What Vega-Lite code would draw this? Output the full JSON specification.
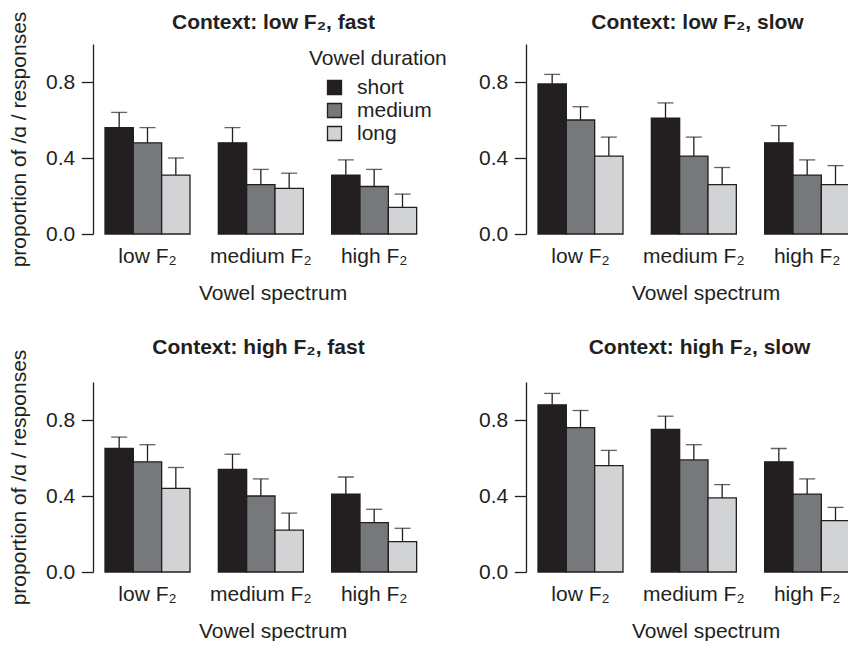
{
  "$schema": "https://vega.github.io/schema/vega-lite/v6.json",
  "background": "white",
  "padding": {"left": 8, "top": 11, "right": 0, "bottom": 0},
  "config": {
    "font": "Liberation Sans",
    "view": {"stroke": null},
    "axis": {"labelFontSize": 21, "titleFontSize": 21, "labelColor": "#231f20", "titleColor": "#231f20", "titleFontWeight": "normal", "grid": false, "domainColor": "#231f20", "tickColor": "#231f20", "domainWidth": 1.3, "tickWidth": 1.3},
    "title": {"fontSize": 21, "fontWeight": "bold", "color": "#231f20", "anchor": "middle", "frame": "group", "baseline": "alphabetic"},
    "legend": {"titleFontSize": 21, "titleFontWeight": "normal", "titleColor": "#231f20", "titlePadding": 8, "labelFontSize": 21, "labelColor": "#231f20", "symbolType": "square", "symbolSize": 196, "symbolStrokeColor": "#231f20", "symbolStrokeWidth": 1.3, "symbolOffset": 15, "labelOffset": 12, "rowPadding": 1}
  },
  "data": {"values": [
    {"panel": "TL", "spectrum": "low F₂", "duration": "short", "value": 0.56, "upper": 0.64},
    {"panel": "TL", "spectrum": "low F₂", "duration": "medium", "value": 0.48, "upper": 0.56},
    {"panel": "TL", "spectrum": "low F₂", "duration": "long", "value": 0.31, "upper": 0.40},
    {"panel": "TL", "spectrum": "medium F₂", "duration": "short", "value": 0.48, "upper": 0.56},
    {"panel": "TL", "spectrum": "medium F₂", "duration": "medium", "value": 0.26, "upper": 0.34},
    {"panel": "TL", "spectrum": "medium F₂", "duration": "long", "value": 0.24, "upper": 0.32},
    {"panel": "TL", "spectrum": "high F₂", "duration": "short", "value": 0.31, "upper": 0.39},
    {"panel": "TL", "spectrum": "high F₂", "duration": "medium", "value": 0.25, "upper": 0.34},
    {"panel": "TL", "spectrum": "high F₂", "duration": "long", "value": 0.14, "upper": 0.21},
    {"panel": "TR", "spectrum": "low F₂", "duration": "short", "value": 0.79, "upper": 0.84},
    {"panel": "TR", "spectrum": "low F₂", "duration": "medium", "value": 0.60, "upper": 0.67},
    {"panel": "TR", "spectrum": "low F₂", "duration": "long", "value": 0.41, "upper": 0.51},
    {"panel": "TR", "spectrum": "medium F₂", "duration": "short", "value": 0.61, "upper": 0.69},
    {"panel": "TR", "spectrum": "medium F₂", "duration": "medium", "value": 0.41, "upper": 0.51},
    {"panel": "TR", "spectrum": "medium F₂", "duration": "long", "value": 0.26, "upper": 0.35},
    {"panel": "TR", "spectrum": "high F₂", "duration": "short", "value": 0.48, "upper": 0.57},
    {"panel": "TR", "spectrum": "high F₂", "duration": "medium", "value": 0.31, "upper": 0.39},
    {"panel": "TR", "spectrum": "high F₂", "duration": "long", "value": 0.26, "upper": 0.36},
    {"panel": "BL", "spectrum": "low F₂", "duration": "short", "value": 0.65, "upper": 0.71},
    {"panel": "BL", "spectrum": "low F₂", "duration": "medium", "value": 0.58, "upper": 0.67},
    {"panel": "BL", "spectrum": "low F₂", "duration": "long", "value": 0.44, "upper": 0.55},
    {"panel": "BL", "spectrum": "medium F₂", "duration": "short", "value": 0.54, "upper": 0.62},
    {"panel": "BL", "spectrum": "medium F₂", "duration": "medium", "value": 0.40, "upper": 0.49},
    {"panel": "BL", "spectrum": "medium F₂", "duration": "long", "value": 0.22, "upper": 0.31},
    {"panel": "BL", "spectrum": "high F₂", "duration": "short", "value": 0.41, "upper": 0.50},
    {"panel": "BL", "spectrum": "high F₂", "duration": "medium", "value": 0.26, "upper": 0.33},
    {"panel": "BL", "spectrum": "high F₂", "duration": "long", "value": 0.16, "upper": 0.23},
    {"panel": "BR", "spectrum": "low F₂", "duration": "short", "value": 0.88, "upper": 0.94},
    {"panel": "BR", "spectrum": "low F₂", "duration": "medium", "value": 0.76, "upper": 0.85},
    {"panel": "BR", "spectrum": "low F₂", "duration": "long", "value": 0.56, "upper": 0.64},
    {"panel": "BR", "spectrum": "medium F₂", "duration": "short", "value": 0.75, "upper": 0.82},
    {"panel": "BR", "spectrum": "medium F₂", "duration": "medium", "value": 0.59, "upper": 0.67},
    {"panel": "BR", "spectrum": "medium F₂", "duration": "long", "value": 0.39, "upper": 0.46},
    {"panel": "BR", "spectrum": "high F₂", "duration": "short", "value": 0.58, "upper": 0.65},
    {"panel": "BR", "spectrum": "high F₂", "duration": "medium", "value": 0.41, "upper": 0.49},
    {"panel": "BR", "spectrum": "high F₂", "duration": "long", "value": 0.27, "upper": 0.34}
  ]},
  "bounds": "flush",
  "columns": 2,
  "spacing": {"row": 148, "column": 74},
  "resolve": {"scale": {"color": "independent"}, "legend": {"color": "independent"}},
  "concat": [
    {
      "width": 359, "height": 190,
      "title": {"text": "Context: low F₂, fast", "offset": -21.6, "dx": 1},
      "transform": [{"filter": "datum.panel === 'TL'"}],
      "encoding": {
        "x": {"field": "spectrum", "type": "nominal", "sort": ["low F₂", "medium F₂", "high F₂"], "scale": {"paddingInner": 0.25, "paddingOuter": 0.2088, "align": 0.2535}, "axis": {"domain": false, "ticks": false, "labelAngle": 0, "labelPadding": 11, "titlePadding": 16}, "title": "Vowel spectrum"},
        "xOffset": {"field": "duration", "type": "nominal", "sort": ["short", "medium", "long"], "scale": {"paddingInner": 0, "paddingOuter": 0}}
      },
      "layer": [
        {"mark": {"type": "bar", "stroke": "#231f20", "strokeWidth": 1.3},
         "encoding": {
           "y": {"field": "value", "type": "quantitative", "scale": {"domain": [0, 1], "nice": false}, "axis": {"values": [0, 0.2, 0.4, 0.6, 0.8, 1.0], "labelExpr": "round(datum.value*10)%4==0 ? format(datum.value,'.1f') : ''", "tickSize": 11.7, "labelPadding": 6.6, "titlePadding": 16}, "title": "proportion of /ɑ / responses"},
           "color": {"field": "duration", "type": "nominal", "scale": {"domain": ["short", "medium", "long"], "range": ["#231f20", "#77787b", "#d1d3d4"]}, "legend": {"title": "Vowel duration", "orient": "none", "legendX": 216, "legendY": 4}}
         }},
        {"mark": {"type": "rule", "color": "#231f20", "strokeWidth": 1.3},
         "encoding": {"y": {"field": "value", "type": "quantitative", "title": "proportion of /ɑ / responses"}, "y2": {"field": "upper"}}},
        {"mark": {"type": "tick", "color": "#231f20", "thickness": 1.3, "size": 16, "orient": "horizontal"},
         "encoding": {"y": {"field": "upper", "type": "quantitative", "title": "proportion of /ɑ / responses"}}}
      ]
    },
    {
      "width": 359, "height": 190,
      "title": {"text": "Context: low F₂, slow", "offset": 11.4, "dx": -8},
      "transform": [{"filter": "datum.panel === 'TR'"}],
      "encoding": {
        "x": {"field": "spectrum", "type": "nominal", "sort": ["low F₂", "medium F₂", "high F₂"], "scale": {"paddingInner": 0.25, "paddingOuter": 0.2088, "align": 0.2535}, "axis": {"domain": false, "ticks": false, "labelAngle": 0, "labelPadding": 11, "titlePadding": 16}, "title": "Vowel spectrum"},
        "xOffset": {"field": "duration", "type": "nominal", "sort": ["short", "medium", "long"], "scale": {"paddingInner": 0, "paddingOuter": 0}}
      },
      "layer": [
        {"mark": {"type": "bar", "stroke": "#231f20", "strokeWidth": 1.3},
         "encoding": {
           "y": {"field": "value", "type": "quantitative", "scale": {"domain": [0, 1], "nice": false}, "axis": {"values": [0, 0.2, 0.4, 0.6, 0.8, 1.0], "labelExpr": "round(datum.value*10)%4==0 ? format(datum.value,'.1f') : ''", "tickSize": 11.7, "labelPadding": 6.6}, "title": null},
           "color": {"field": "duration", "type": "nominal", "scale": {"domain": ["short", "medium", "long"], "range": ["#231f20", "#77787b", "#d1d3d4"]}, "legend": null}
         }},
        {"mark": {"type": "rule", "color": "#231f20", "strokeWidth": 1.3},
         "encoding": {"y": {"field": "value", "type": "quantitative", "title": null}, "y2": {"field": "upper"}}},
        {"mark": {"type": "tick", "color": "#231f20", "thickness": 1.3, "size": 16, "orient": "horizontal"},
         "encoding": {"y": {"field": "upper", "type": "quantitative", "title": null}}}
      ]
    },
    {
      "width": 359, "height": 190,
      "title": {"text": "Context: high F₂, fast", "offset": -8.6, "dx": -14},
      "transform": [{"filter": "datum.panel === 'BL'"}],
      "encoding": {
        "x": {"field": "spectrum", "type": "nominal", "sort": ["low F₂", "medium F₂", "high F₂"], "scale": {"paddingInner": 0.25, "paddingOuter": 0.2088, "align": 0.2535}, "axis": {"domain": false, "ticks": false, "labelAngle": 0, "labelPadding": 11, "titlePadding": 16}, "title": "Vowel spectrum"},
        "xOffset": {"field": "duration", "type": "nominal", "sort": ["short", "medium", "long"], "scale": {"paddingInner": 0, "paddingOuter": 0}}
      },
      "layer": [
        {"mark": {"type": "bar", "stroke": "#231f20", "strokeWidth": 1.3},
         "encoding": {
           "y": {"field": "value", "type": "quantitative", "scale": {"domain": [0, 1], "nice": false}, "axis": {"values": [0, 0.2, 0.4, 0.6, 0.8, 1.0], "labelExpr": "round(datum.value*10)%4==0 ? format(datum.value,'.1f') : ''", "tickSize": 11.7, "labelPadding": 6.6, "titlePadding": 16}, "title": "proportion of /ɑ / responses"},
           "color": {"field": "duration", "type": "nominal", "scale": {"domain": ["short", "medium", "long"], "range": ["#231f20", "#77787b", "#d1d3d4"]}, "legend": null}
         }},
        {"mark": {"type": "rule", "color": "#231f20", "strokeWidth": 1.3},
         "encoding": {"y": {"field": "value", "type": "quantitative", "title": "proportion of /ɑ / responses"}, "y2": {"field": "upper"}}},
        {"mark": {"type": "tick", "color": "#231f20", "thickness": 1.3, "size": 16, "orient": "horizontal"},
         "encoding": {"y": {"field": "upper", "type": "quantitative", "title": "proportion of /ɑ / responses"}}}
      ]
    },
    {
      "width": 359, "height": 190,
      "title": {"text": "Context: high F₂, slow", "offset": 24.4, "dx": -6},
      "transform": [{"filter": "datum.panel === 'BR'"}],
      "encoding": {
        "x": {"field": "spectrum", "type": "nominal", "sort": ["low F₂", "medium F₂", "high F₂"], "scale": {"paddingInner": 0.25, "paddingOuter": 0.2088, "align": 0.2535}, "axis": {"domain": false, "ticks": false, "labelAngle": 0, "labelPadding": 11, "titlePadding": 16}, "title": "Vowel spectrum"},
        "xOffset": {"field": "duration", "type": "nominal", "sort": ["short", "medium", "long"], "scale": {"paddingInner": 0, "paddingOuter": 0}}
      },
      "layer": [
        {"mark": {"type": "bar", "stroke": "#231f20", "strokeWidth": 1.3},
         "encoding": {
           "y": {"field": "value", "type": "quantitative", "scale": {"domain": [0, 1], "nice": false}, "axis": {"values": [0, 0.2, 0.4, 0.6, 0.8, 1.0], "labelExpr": "round(datum.value*10)%4==0 ? format(datum.value,'.1f') : ''", "tickSize": 11.7, "labelPadding": 6.6}, "title": null},
           "color": {"field": "duration", "type": "nominal", "scale": {"domain": ["short", "medium", "long"], "range": ["#231f20", "#77787b", "#d1d3d4"]}, "legend": null}
         }},
        {"mark": {"type": "rule", "color": "#231f20", "strokeWidth": 1.3},
         "encoding": {"y": {"field": "value", "type": "quantitative", "title": null}, "y2": {"field": "upper"}}},
        {"mark": {"type": "tick", "color": "#231f20", "thickness": 1.3, "size": 16, "orient": "horizontal"},
         "encoding": {"y": {"field": "upper", "type": "quantitative", "title": null}}}
      ]
    }
  ]
}
